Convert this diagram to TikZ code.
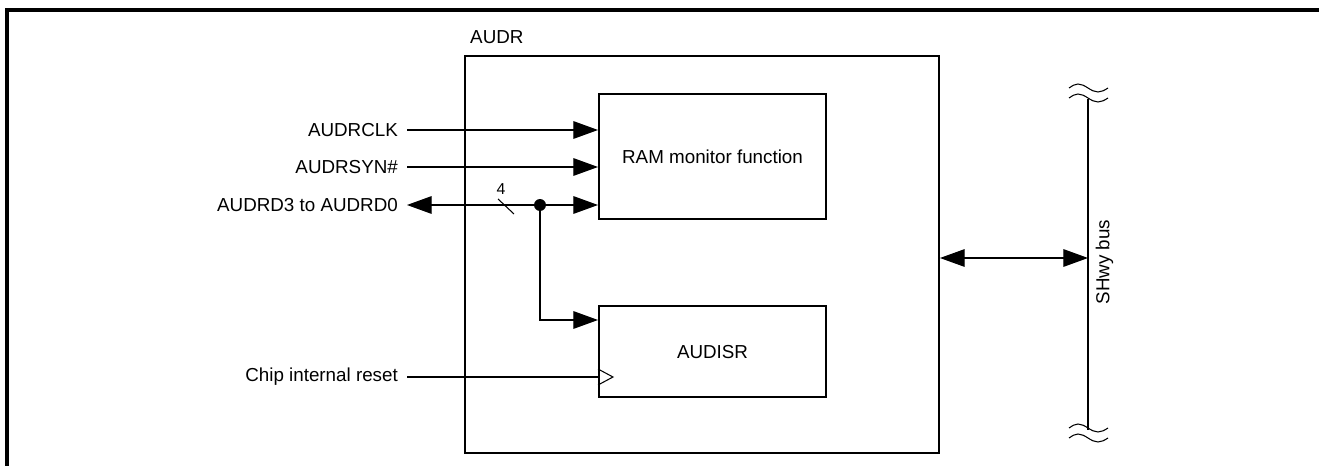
\documentclass[tikz,border=0pt]{standalone}
\usepackage{fontspec}
\setmainfont{Liberation Sans}
\usetikzlibrary{arrows.meta, positioning, calc}

\tikzset{
    blk/.style={draw, line width=1.2pt, anchor=north west, inner sep=0pt},
    sig/.style={anchor=east, inner xsep=5pt, inner ysep=0pt},
    wire/.style={line width=0.6pt},
    tip/.style={-{Triangle[length=14pt, width=10pt]}},
    bitip/.style={{Triangle[length=14pt, width=10pt]}-{Triangle[length=14pt, width=10pt]}}
}

\begin{document}
\begin{tikzpicture}[x=0.02cm, y=-0.02cm, font=\fontsize{10.7}{12.8}\selectfont]
    \useasboundingbox (0,0) rectangle (1319,466);

    % 1. Khung ngoài (chỉ thấy cạnh trên và cạnh trái)
    \draw[line width=1.8pt] (1319,10) -- (7,10) -- (7,466);

    % 2. Khối AUDR và hai khối con
    \node[blk, minimum width=9.48cm, minimum height=7.94cm] (audr) at (464,55) {};
    \node[anchor=base west] (audrlbl) at (464,44) {AUDR};
    \node[blk, minimum width=4.54cm, minimum height=2.5cm] (ram) at (598,93) {RAM monitor function};
    \node[blk, minimum width=4.54cm, minimum height=1.82cm] (audisr) at (598,305) {AUDISR};

    % 3. Các tín hiệu vào bên trái
    \node[sig] (clk) at (407,130) {AUDRCLK};
    \node[sig] (syn) at (407,167) {AUDRSYN\#};
    \node[sig] (dat) at (407,205) {AUDRD3 to AUDRD0};
    \node[sig] (rst) at (407,377) {Chip internal reset};

    \draw[wire, tip] (clk.east) -- (clk.east -| ram.west);
    \draw[wire, tip] (syn.east) -- (syn.east -| ram.west);
    \draw[wire, bitip] (dat.east) -- (dat.east -| ram.west);

    % Nhánh dữ liệu 4 bit xuống AUDISR
    \coordinate (tap) at (540,205);
    \fill (tap) circle (3.4pt);
    \draw[wire] (498,199) -- (514,214);
    \node[anchor=south, inner sep=1pt] (width) at (501,197) {\fontsize{9}{10}\selectfont 4};
    \draw[wire, tip] (tap) |- ($(audisr.north west)+(0,15)$);

    % Reset vào chân clock của AUDISR
    \draw[wire] (rst.east) -- (rst.east -| audisr.west);
    \draw[wire] (598,369) -- (613,377) -- (598,385);

    % 4. Bus SHwy bên phải
    \coordinate (bustop) at (1088,99);
    \coordinate (busbot) at (1088,430);
    \draw[line width=1.2pt] (bustop) -- (busbot);
    \foreach \y in {88,98,428,438} {
        \draw[wire] (1069,\y) sin (1078,\y-4) cos (1088,\y) sin (1098,\y+4) cos (1108,\y);
    }
    \draw[wire, bitip] (audr.east |- 0,258) -- (bustop |- 0,258);
    \node[anchor=north, rotate=90, inner sep=3pt] (buslbl) at (1090,262) {SHwy bus};
\end{tikzpicture}
\end{document}
